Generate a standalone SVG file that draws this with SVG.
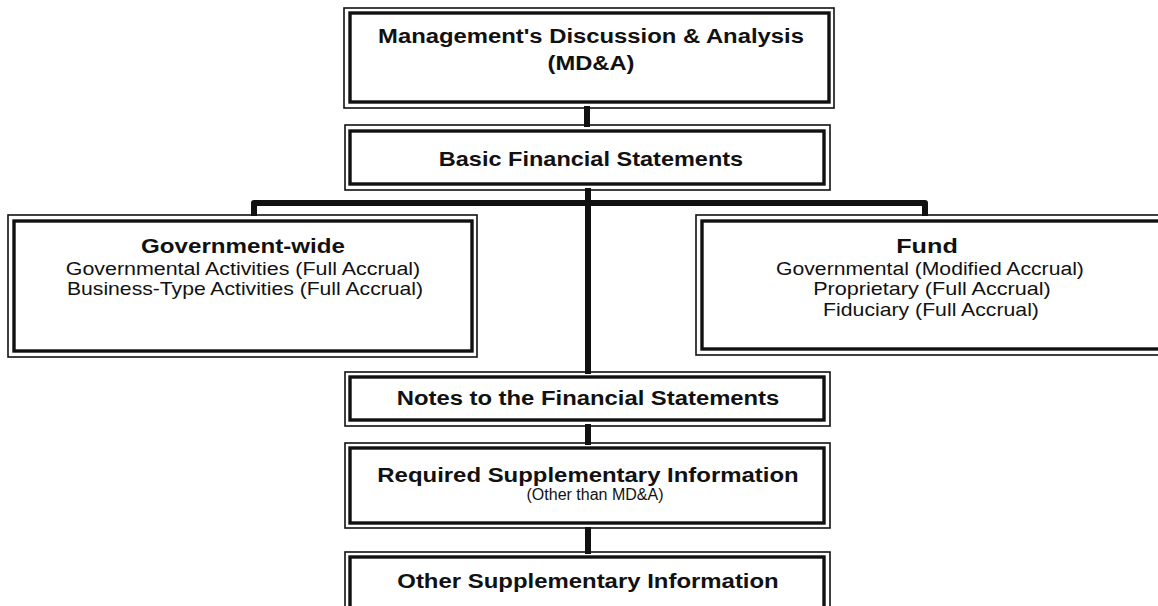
<svg xmlns="http://www.w3.org/2000/svg" width="1158" height="606" viewBox="0 0 1158 606">
  <style>
    .outer { fill: none; stroke: #111; stroke-width: 1.6; }
    .inner { fill: #fff; stroke: #111; stroke-width: 3.4; }
    .wire { fill: none; stroke: #111; stroke-width: 6; stroke-linejoin: round; }
    text { font-family: "Liberation Sans", Arial, Helvetica, sans-serif; fill: #111; text-anchor: middle; }
    .b { font-size: 21px; font-weight: bold; }
    .r { font-size: 18px; }
    .s { font-size: 16px; }
  </style>
  <rect width="1158" height="606" fill="#fff"/>

  <!-- connectors -->
  <g id="connectors">
    <line class="wire" x1="587" y1="106" x2="587" y2="127"/>
    <line class="wire" x1="588" y1="188" x2="588" y2="374"/>
    <path class="wire" d="M254,216 L254,203 L925,203 L925,216"/>
    <line class="wire" x1="588" y1="424" x2="588" y2="445"/>
    <line class="wire" x1="588" y1="527" x2="588" y2="554"/>
  </g>

  <!-- Management's Discussion & Analysis -->
  <g id="mdna">
    <rect class="outer" x="344" y="8" width="490" height="100"/>
    <rect class="inner" x="350" y="13" width="479" height="89"/>
    <text class="b" transform="translate(591,43) scale(1.135,1)">Management's Discussion &amp; Analysis</text>
    <text class="b" transform="translate(591,70) scale(1.13,1)">(MD&amp;A)</text>
  </g>

  <!-- Basic Financial Statements -->
  <g id="basic">
    <rect class="outer" x="345" y="125" width="485" height="65"/>
    <rect class="inner" x="350" y="131" width="474" height="53"/>
    <text class="b" transform="translate(591,166) scale(1.12,1)">Basic Financial Statements</text>
  </g>

  <!-- Government-wide -->
  <g id="govwide">
    <rect class="outer" x="8" y="215" width="469" height="142"/>
    <rect class="inner" x="14" y="221" width="458" height="130"/>
    <text class="b" transform="translate(243,253) scale(1.15,1)">Government-wide</text>
    <text class="r" transform="translate(243,274.5) scale(1.19,1)">Governmental Activities (Full Accrual)</text>
    <text class="r" transform="translate(245,295) scale(1.176,1)">Business-Type Activities (Full Accrual)</text>
  </g>

  <!-- Fund -->
  <g id="fund">
    <rect class="outer" x="696" y="215" width="470" height="140"/>
    <rect class="inner" x="702" y="221" width="470" height="128"/>
    <text class="b" transform="translate(927,253) scale(1.2,1)">Fund</text>
    <text class="r" transform="translate(930,274.5) scale(1.175,1)">Governmental (Modified Accrual)</text>
    <text class="r" transform="translate(932,295) scale(1.2,1)">Proprietary (Full Accrual)</text>
    <text class="r" transform="translate(931,315.5) scale(1.18,1)">Fiduciary (Full Accrual)</text>
  </g>

  <!-- Notes to the Financial Statements -->
  <g id="notes">
    <rect class="outer" x="345" y="372" width="485" height="54"/>
    <rect class="inner" x="350" y="377" width="474" height="43"/>
    <text class="b" transform="translate(588,405) scale(1.135,1)">Notes to the Financial Statements</text>
  </g>

  <!-- Required Supplementary Information -->
  <g id="rsi">
    <rect class="outer" x="345" y="443" width="485" height="85"/>
    <rect class="inner" x="350" y="448" width="474" height="75"/>
    <text class="b" transform="translate(588,482) scale(1.14,1)">Required Supplementary Information</text>
    <text class="s" transform="translate(595,500)">(Other than MD&amp;A)</text>
  </g>

  <!-- Other Supplementary Information -->
  <g id="osi">
    <rect class="outer" x="345" y="552" width="485" height="70"/>
    <rect class="inner" x="350" y="557" width="474" height="60"/>
    <text class="b" transform="translate(588,588) scale(1.14,1)">Other Supplementary Information</text>
  </g>
</svg>
